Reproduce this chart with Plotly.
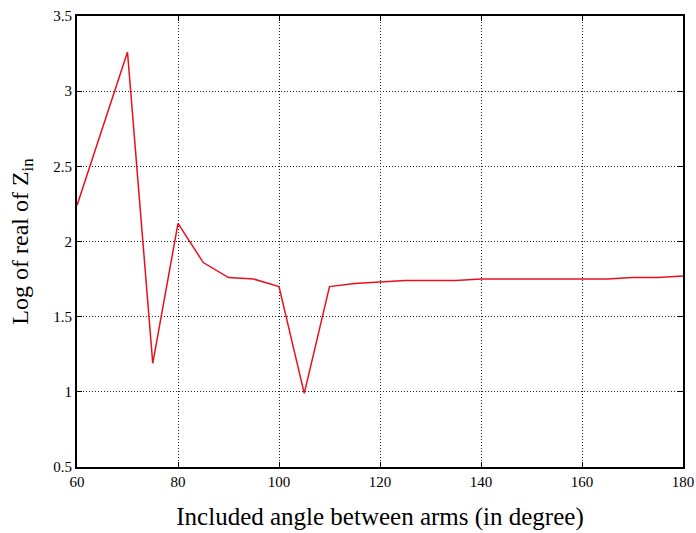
import plotly.graph_objects as go

angles = [60, 65, 70, 75, 80, 85, 90, 95, 100, 105, 110, 115, 120, 125, 130, 135, 140, 145, 150, 155, 160, 165, 170, 175, 180]
log_real_zin = [2.24, 2.75, 3.26, 1.19, 2.12, 1.86, 1.76, 1.75, 1.70, 0.99, 1.70, 1.72, 1.73, 1.74, 1.74, 1.74, 1.75, 1.75, 1.75, 1.75, 1.75, 1.75, 1.76, 1.76, 1.77]

x_ticks = [60, 80, 100, 120, 140, 160, 180]
y_ticks = [0.5, 1, 1.5, 2, 2.5, 3, 3.5]

fig = go.Figure()
fig.add_trace(go.Scatter(x=angles, y=log_real_zin, mode="lines",
                         line=dict(color="#e8101e", width=1.5), showlegend=False))

axis_common = dict(
    showline=True, linecolor="black", linewidth=2, mirror="ticks",
    ticks="inside", ticklen=5, tickcolor="black",
    showgrid=True, gridcolor="#222222", gridwidth=1, griddash="1px,2px",
    zeroline=False, automargin=False,
    tickfont=dict(family="Liberation Serif, Times New Roman, serif", size=15, color="black"),
)

fig.update_layout(
    width=696, height=533,
    margin=dict(l=77, r=13, t=16, b=66),
    plot_bgcolor="white", paper_bgcolor="white",
    font=dict(family="Liberation Serif, Times New Roman, serif", color="black"),
    xaxis=dict(range=[60, 180], tickvals=x_ticks, **axis_common,
               title=dict(text="Included angle between arms (in degree)",
                          font=dict(size=25), standoff=18)),
    yaxis=dict(range=[0.5, 3.5], tickvals=y_ticks, **axis_common,
               title=dict(text="Log of real of Z<sub>in</sub>",
                          font=dict(size=24), standoff=18)),
)

fig.write_html("out.html")
